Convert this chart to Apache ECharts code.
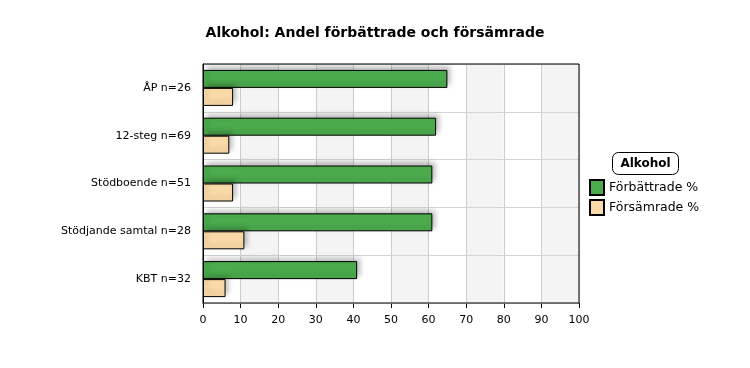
<!DOCTYPE html>
<html><head><meta charset="utf-8">
<script src="https://cdn.jsdelivr.net/npm/echarts@6/dist/echarts.min.js"></script>
<style>html,body{margin:0;padding:0;background:#fff}#c{width:750px;height:368px}</style>
</head><body><div id="c"></div>
<script>
const categories = ['ÅP n=26', '12-steg n=69', 'Stödboende n=51', 'Stödjande samtal n=28', 'KBT n=32'];
const improved = [65, 62, 61, 61, 41];
const worsened = [8, 7, 8, 11, 6];
const xTicks = [0, 10, 20, 30, 40, 50, 60, 70, 80, 90, 100];
const seriesNames = ['Förbättrade %', 'Försämrade %'];

const font = 'DejaVu Sans, Verdana, sans-serif';
const chart = echarts.init(document.getElementById('c'), null, {renderer: 'canvas'});
const shadow = {shadowBlur: 5, shadowOffsetX: 3, shadowOffsetY: -3, shadowColor: 'rgba(0,0,0,0.25)'};
chart.setOption({
  animation: false,
  backgroundColor: '#fff',
  title: {text: 'Alkohol: Andel förbättrade och försämrade', left: 'center', top: 21,
    textStyle: {fontFamily: font, fontSize: 14, fontWeight: 'bold', color: '#000'}},
  grid: {left: 203, right: 171, top: 64, bottom: 65, show: true, borderColor: '#000', borderWidth: 1, backgroundColor: 'transparent', z: 3},
  xAxis: {type: 'value', min: xTicks[0], max: xTicks[xTicks.length - 1], interval: 10,
    axisLine: {show: true, lineStyle: {color: '#000'}},
    axisTick: {show: true, length: 5, lineStyle: {color: '#000'}},
    axisLabel: {fontFamily: font, fontSize: 11, color: '#000', margin: 12},
    splitLine: {show: true, lineStyle: {color: '#cccccc'}},
    splitArea: {show: true, areaStyle: {color: ['#ffffff', '#f4f4f4']}}},
  yAxis: {type: 'category', data: categories, inverse: true, z: 1,
    axisLine: {show: true, lineStyle: {color: '#000'}},
    axisTick: {show: false},
    axisLabel: {fontFamily: font, fontSize: 11, color: '#000', margin: 12},
    splitLine: {show: true, lineStyle: {color: '#d4d4d4'}}},
  legend: {orient: 'vertical', left: 584, top: 174, itemWidth: 14, itemHeight: 15, itemGap: 3,
    textStyle: {fontFamily: font, fontSize: 12.5, color: '#000'},
    data: seriesNames.map(n => ({name: n, icon: 'rect'}))},
  graphic: [{type: 'group', left: 612, top: 152, children: [
    {type: 'rect', shape: {x: 0, y: 0, width: 66, height: 22, r: 6}, style: {fill: '#fff', stroke: '#000', lineWidth: 1}},
    {type: 'text', style: {x: 33, y: 11, text: 'Alkohol', align: 'center', verticalAlign: 'middle', fontFamily: font, fontSize: 12, fontWeight: 'bold', fill: '#000'}}
  ]}],
  series: [
    {name: seriesNames[0], type: 'bar', data: improved, barWidth: 18, barGap: '0%',
      itemStyle: Object.assign({color: '#4bab4d', borderColor: '#000', borderWidth: 1}, shadow)},
    {name: seriesNames[1], type: 'bar', data: worsened, barWidth: 18,
      itemStyle: Object.assign({color: '#fad9a8', borderColor: '#000', borderWidth: 1}, shadow)}
  ]
});
</script></body></html>
